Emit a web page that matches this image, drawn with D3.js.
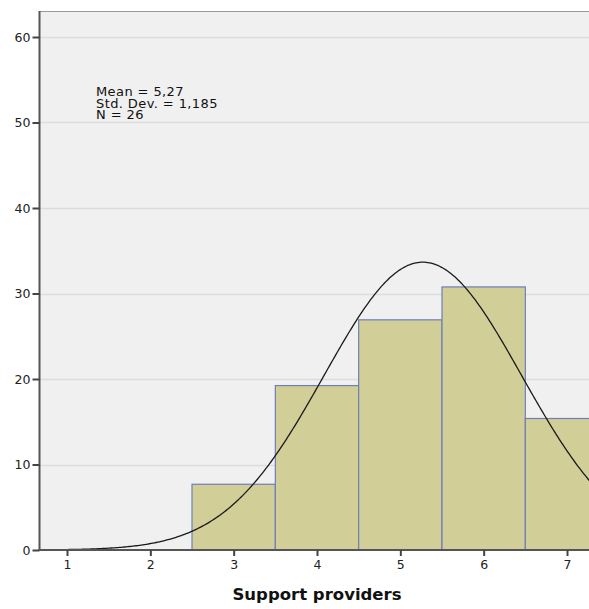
<!DOCTYPE html>
<html>
<head>
<meta charset="utf-8">
<script src="https://cdn.jsdelivr.net/npm/d3@7"></script>
<style>
  html, body { margin: 0; padding: 0; background: #ffffff; }
  svg { display: block; }
</style>
</head>
<body>
<svg id="chart" width="589" height="609"></svg>
<script>
// Histogram of support providers (percent per bin) with fitted normal curve
const binCenters = [3, 4, 5, 6, 7];
const binPercents = [7.69, 19.23, 26.92, 30.77, 15.38];
const xTicks = [1, 2, 3, 4, 5, 6, 7];
const yTicks = [0, 10, 20, 30, 40, 50, 60];
const statLines = ["Mean = 5,27", "Std. Dev. = 1,185", "N = 26"];
const meanValue = 5.27;
const sdValue = 1.185;
const binWidth = 1;

const svg = d3.select("#chart");
const W = 589, H = 609;
const plotLeft = 39.5, plotTop = 11, plotBottom = 550;

const x = d3.scaleLinear().domain([1, 7]).range([67, 567]);
const y = d3.scaleLinear().domain([0, 60]).range([plotBottom, 37]);

const plotRight = W + 20;

// plot background
svg.append("rect")
  .attr("x", plotLeft).attr("y", plotTop)
  .attr("width", plotRight - plotLeft).attr("height", plotBottom - plotTop)
  .attr("fill", "#f0f0f0");

// top border
svg.append("line")
  .attr("x1", plotLeft).attr("x2", plotRight)
  .attr("y1", plotTop + 0.5).attr("y2", plotTop + 0.5)
  .attr("stroke", "#9a9a9a").attr("stroke-width", 1);

// horizontal gridlines
svg.append("g").selectAll("line")
  .data(yTicks.filter(d => d > 0))
  .join("line")
  .attr("x1", plotLeft).attr("x2", plotRight)
  .attr("y1", d => Math.round(y(d)) + 0.5).attr("y2", d => Math.round(y(d)) + 0.5)
  .attr("stroke", "#dcdcdc").attr("stroke-width", 1.5);

// bars
svg.append("g").selectAll("rect")
  .data(binCenters.map((c, i) => ({ c, v: binPercents[i] })))
  .join("rect")
  .attr("x", d => x(d.c - binWidth / 2))
  .attr("y", d => y(d.v))
  .attr("width", d => x(d.c + binWidth / 2) - x(d.c - binWidth / 2))
  .attr("height", d => y(0) - y(d.v))
  .attr("fill", "#d2ce98")
  .attr("stroke", "#6d7fb8")
  .attr("stroke-width", 1.2);

// normal curve scaled to percent per bin
const scale = 100 * binWidth / (sdValue * Math.sqrt(2 * Math.PI));
const curvePts = d3.range(0.67, 7.6, 0.02).map(v => [v, scale * Math.exp(-0.5 * Math.pow((v - meanValue) / sdValue, 2))]);
svg.append("path")
  .datum(curvePts)
  .attr("fill", "none")
  .attr("stroke", "#1a1a1a")
  .attr("stroke-width", 1.3)
  .attr("d", d3.line().x(d => x(d[0])).y(d => y(d[1])));

// y axis
const yAxis = svg.append("g")
  .attr("transform", `translate(${plotLeft},0)`)
  .call(d3.axisLeft(y).tickValues(yTicks).tickSize(7).tickPadding(2).tickFormat(d3.format("d")));
yAxis.select(".domain").attr("d", `M0,${plotTop}V${plotBottom}`).attr("stroke", "#555").attr("stroke-width", 2);
yAxis.selectAll(".tick line").attr("stroke", "#444").attr("stroke-width", 2);
yAxis.selectAll(".tick text")
  .attr("font-family", "'DejaVu Sans', sans-serif").attr("font-size", 12.5).attr("fill", "#222");

// x axis
const xAxis = svg.append("g")
  .attr("transform", `translate(0,${plotBottom})`)
  .call(d3.axisBottom(x).tickValues(xTicks).tickSize(6).tickPadding(4).tickFormat(d3.format("d")));
xAxis.select(".domain").attr("d", `M${plotLeft - 1},0H${W}`).attr("stroke", "#555").attr("stroke-width", 2);
xAxis.selectAll(".tick line").attr("stroke", "#444").attr("stroke-width", 2);
xAxis.selectAll(".tick text")
  .attr("font-family", "'DejaVu Sans', sans-serif").attr("font-size", 12.5).attr("fill", "#222");

// axis title
svg.append("text")
  .attr("x", 317).attr("y", 600)
  .attr("text-anchor", "middle")
  .attr("font-family", "'DejaVu Sans', sans-serif")
  .attr("font-weight", "bold")
  .attr("font-size", 16.5)
  .attr("fill", "#111")
  .text("Support providers");

// statistics box
svg.append("g").selectAll("text")
  .data(statLines)
  .join("text")
  .attr("x", 96)
  .attr("y", (d, i) => 96 + i * 11.5)
  .attr("font-family", "'DejaVu Sans', sans-serif")
  .attr("font-size", 13)
  .attr("letter-spacing", 0.4)
  .attr("fill", "#111")
  .text(d => d);
</script>
</body>
</html>
